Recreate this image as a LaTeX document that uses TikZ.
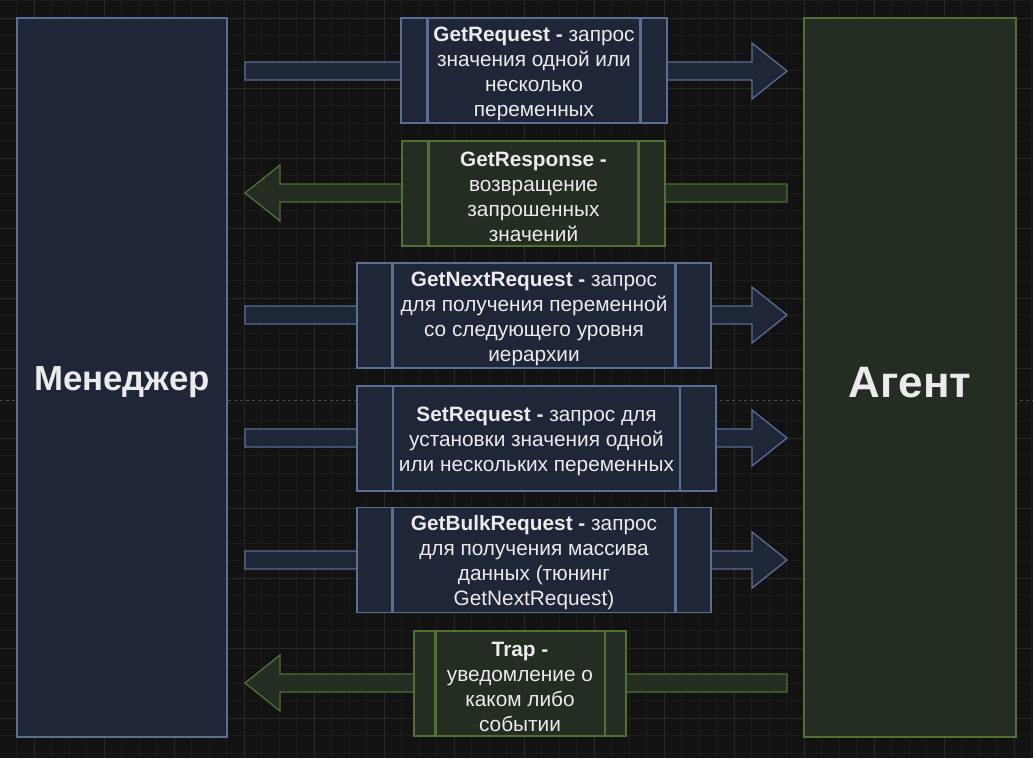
\documentclass[tikz,border=0pt]{standalone}
\usepackage{fontspec}
\setmainfont{Liberation Sans}
\usetikzlibrary{calc}
\definecolor{bg}{HTML}{121212}
\definecolor{gridmin}{HTML}{1C1C1C}
\definecolor{gridmaj}{HTML}{292929}
\definecolor{pagebr}{HTML}{4A4A4A}
\definecolor{bfill}{HTML}{1E2638}
\definecolor{bstroke}{HTML}{5B6D93}
\definecolor{gfill}{HTML}{242D22}
\definecolor{gstroke}{HTML}{527034}
\definecolor{txt}{HTML}{EBEBEB}
\tikzset{
  bigbox/.style={rectangle, inner sep=0pt, line width=1.3pt, text=txt},
  navybox/.style={bigbox, draw=bstroke, fill=bfill},
  greenbox/.style={bigbox, draw=gstroke, fill=gfill},
  proc/.style={rectangle, inner sep=0pt, line width=1.3pt, minimum height=105pt},
  msg/.style={text=txt, align=center, inner sep=0pt, font=\fontsize{20.8}{25}\selectfont},
  procB/.style={proc, draw=bstroke, fill=bfill,
     path picture={\draw[bstroke, line width=2.6pt]
       ($(path picture bounding box.south west)!0.1!(path picture bounding box.south east)$) --
       ($(path picture bounding box.north west)!0.1!(path picture bounding box.north east)$)
       ($(path picture bounding box.south west)!0.9!(path picture bounding box.south east)$) --
       ($(path picture bounding box.north west)!0.9!(path picture bounding box.north east)$);}},
  procG/.style={proc, draw=gstroke, fill=gfill,
     path picture={\draw[gstroke, line width=2.6pt]
       ($(path picture bounding box.south west)!0.1!(path picture bounding box.south east)$) --
       ($(path picture bounding box.north west)!0.1!(path picture bounding box.north east)$)
       ($(path picture bounding box.south west)!0.9!(path picture bounding box.south east)$) --
       ($(path picture bounding box.north west)!0.9!(path picture bounding box.north east)$);}},
  arrB/.style={draw=bstroke, fill=bfill, line width=1.3pt, line join=miter},
  arrG/.style={draw=gstroke, fill=gfill, line width=1.3pt, line join=miter},
  title/.style={text=txt},
}
\begin{document}
\begin{tikzpicture}[x=1pt,y=-1pt]
\useasboundingbox (0,0) rectangle (1033,758);
\fill[bg] (0,0) rectangle (1033,758);
% grid
\foreach \i in {0,...,59} {\draw[gridmin, line width=0.6pt] ({-1+17.5*\i},0) -- ++(0,758);}
\foreach \i in {0,...,43} {\draw[gridmin, line width=0.6pt] (0,{0.5+17.5*\i}) -- ++(1033,0);}
\foreach \i in {0,...,14} {\draw[gridmaj, line width=0.8pt] ({34+70*\i},0) -- ++(0,758);}
\foreach \i in {0,...,10} {\draw[gridmaj, line width=0.8pt] (0,{18+70*\i}) -- ++(1033,0);}
\draw[pagebr, dashed, line width=0.6pt, dash pattern=on 3pt off 3pt] (0,400) -- (1033,400);

% main boxes
\node[navybox, minimum width=210pt, minimum height=719pt] (man) at (122,377.5) {};
\node[greenbox, minimum width=212pt, minimum height=719pt] (agt) at (910,377.5) {};
\node[title, font=\bfseries\fontsize{34.8}{40}\selectfont] (mant) at (122,382.5) {Менеджер};
\node[title, font=\bfseries\fontsize{44}{50}\selectfont] (agtt) at (910,382.5) {Агент};

% arrow end coordinates
\foreach \n/\y in {1/71, 2/193, 3/315, 4/438, 5/560, 6/683} {
  \coordinate (L\n) at (245,\y);
  \coordinate (R\n) at (787,\y);
}
% right-pointing arrows (manager -> agent)
\foreach \n in {1,3,4,5} {
  \draw[arrB] ($(L\n)+(0,-9)$) -- ($(R\n)+(-35,-9)$) -- ($(R\n)+(-35,-28)$) -- (R\n)
     -- ($(R\n)+(-35,28)$) -- ($(R\n)+(-35,9)$) -- ($(L\n)+(0,9)$) -- cycle;
}
% left-pointing arrows (agent -> manager)
\foreach \n in {2,6} {
  \draw[arrG] ($(R\n)+(0,-9)$) -- ($(L\n)+(35,-9)$) -- ($(L\n)+(35,-28)$) -- (L\n)
     -- ($(L\n)+(35,28)$) -- ($(L\n)+(35,9)$) -- ($(R\n)+(0,9)$) -- cycle;
}

% message boxes
\node[procB, minimum width=266pt] (m1) at (534,70.5) {};
\node[procG, minimum width=263pt] (m2) at (533.5,193.5) {};
\node[procB, minimum width=354pt] (m3) at (534,315.5) {};
\node[procB, minimum width=359pt] (m4) at (536.5,438.5) {};
\node[procB, minimum width=354pt] (m5) at (534,560) {};
\node[procG, minimum width=212pt] (m6) at (520,683.5) {};

\node[msg] (t1) at ($(m1)+(0,3)$)
  {\textbf{GetRequest -} запрос\\значения одной или\\несколько\\переменных};
\node[msg] (t2) at ($(m2)+(0,3)$)
  {\textbf{GetResponse -}\\возвращение\\запрошенных\\значений};
\node[msg] (t3) at ($(m3)+(0,3)$)
  {\textbf{GetNextRequest -} запрос\\для получения переменной\\со следующего уровня\\иерархии};
\node[msg] (t4) at ($(m4)+(0,3)$)
  {\textbf{SetRequest -} запрос для\\установки значения одной\\или нескольких переменных};
\node[msg] (t5) at ($(m5)+(0,3)$)
  {\textbf{GetBulkRequest -} запрос\\для получения массива\\данных (тюнинг\\GetNextRequest)};
\node[msg] (t6) at ($(m6)+(0,3)$)
  {\textbf{Trap -}\\уведомление о\\каком либо\\событии};
\end{tikzpicture}
\end{document}
